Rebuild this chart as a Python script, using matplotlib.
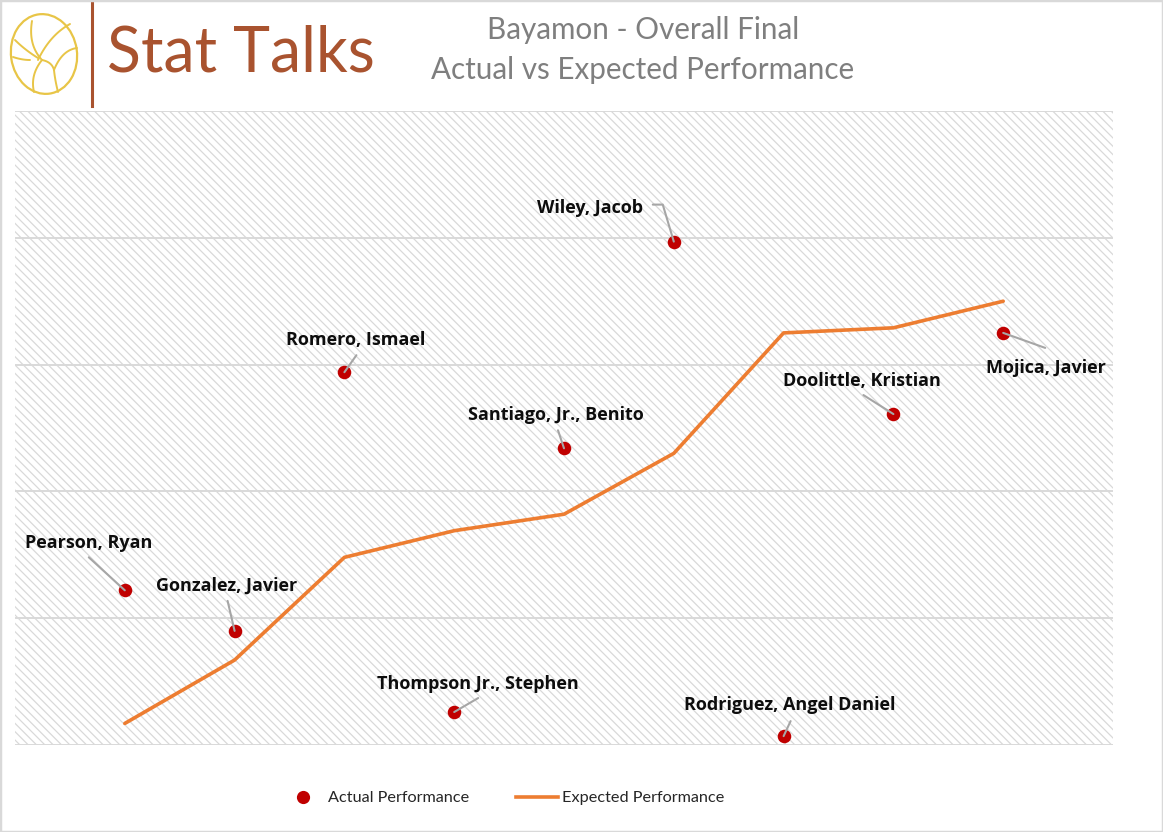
import matplotlib
matplotlib.use("Agg")
import matplotlib.pyplot as plt
from matplotlib.patches import Rectangle, Ellipse
from matplotlib.lines import Line2D
import numpy as np

plt.rcParams['font.family'] = ['Lato', 'DejaVu Sans']
plt.rcParams['hatch.linewidth'] = 0.9

# ---------------- data ----------------
players = ["Pearson, Ryan", "Gonzalez, Javier", "Romero, Ismael",
           "Thompson Jr., Stephen", "Santiago, Jr., Benito", "Wiley, Jacob",
           "Rodriguez, Angel Daniel", "Doolittle, Kristian", "Mojica, Javier"]
actual = [1.22, 0.90, 2.94, 0.26, 2.34, 3.97, 0.07, 2.61, 3.25]
expected = [0.17, 0.67, 1.48, 1.69, 1.82, 2.30, 3.25, 3.29, 3.50]

title_lines = ["Bayamon - Overall Final", "Actual vs Expected Performance"]

# label placement (pixel offsets from point): label centre, leader start
label_off = [(-36, 47), (-8, 45), (11, 32), (24, 28), (-8, 33),
             (-84, 34), (6, 31), (-31, 33), (43, -35)]
leader_off = [(-36, 33), (-7, 30), (12, 17), (24, 14), (-6, 18),
              (-21, 37), (7, 15), (-30, 19), (42, -15)]

W, H = 1163, 832
fig = plt.figure(figsize=(W / 100, H / 100), dpi=100)
fig.patch.set_facecolor('white')

# plot area
L, R, T, B = 15, 1113, 111, 745
ax = fig.add_axes([L / W, 1 - B / H, (R - L) / W, (B - T) / H])
ax.set_xlim(0, 10)
ax.set_ylim(0, 5)
ax.set_facecolor('white')
ax.add_patch(Rectangle((0, 0), 1, 1, transform=ax.transAxes, facecolor='white',
                       edgecolor='#D9D9D9', hatch='\\\\\\\\', linewidth=0, zorder=0))
for s in ax.spines.values():
    s.set_visible(False)
ax.set_xticks([])
ax.set_yticks(np.arange(0, 5.01, 1))
ax.tick_params(left=False, labelleft=False)
ax.grid(axis='y', color='#D9D9D9', linewidth=1.4)
ax.set_axisbelow(True)

x = np.arange(1, len(players) + 1)
ax.plot(x, expected, color='#ED7D31', linewidth=2.6, solid_capstyle='round', zorder=3)
ax.scatter(x, actual, s=95, color='#C00000', zorder=4, linewidths=0)

for i, name in enumerate(players):
    xy = (x[i], actual[i])
    if i == 5:
        cs = "angle,angleA=0,angleB=106.6,rad=0"
    else:
        cs = "arc3,rad=0"
    ax.annotate('', xy=xy, xytext=leader_off[i], textcoords='offset pixels',
                arrowprops=dict(arrowstyle='-', color='#A6A6A6', lw=1.5,
                                shrinkA=0, shrinkB=0, connectionstyle=cs),
                zorder=5)
    ax.annotate(name, xy=xy, xytext=label_off[i], textcoords='offset pixels',
                ha='center', va='center', fontsize=13, fontweight='bold',
                family=['Open Sans', 'DejaVu Sans'],
                color='#0D0D0D', zorder=6)

# title
fig.text(643 / W, 1 - 30 / H, title_lines[0], ha='center', va='center',
         fontsize=21.3, color='#7F7F7F')
fig.text(643 / W, 1 - 70 / H, title_lines[1], ha='center', va='center',
         fontsize=21.3, color='#7F7F7F')

# logo
lax = fig.add_axes([0, 1 - 110 / H, 110 / W, 110 / H])
lax.set_xlim(0, 110)
lax.set_ylim(110, 0)
lax.axis('off')
ball = '#E8C547'
lax.add_patch(Ellipse((44, 54), 66, 80, angle=-8, fill=False, edgecolor=ball, lw=1.6))
def seam(pts):
    p = np.array(pts, dtype=float)
    t = np.linspace(0, 1, 40)
    # quadratic bezier
    c = ((1 - t) ** 2)[:, None] * p[0] + (2 * (1 - t) * t)[:, None] * p[1] + (t ** 2)[:, None] * p[2]
    lax.plot(c[:, 0], c[:, 1], color=ball, lw=1.4, solid_capstyle='round')
seam([(32, 21), (28, 45), (42, 60)])
seam([(38, 60), (50, 35), (70, 24)])
seam([(15, 40), (25, 50), (38, 58)])
seam([(42, 60), (30, 75), (34, 92)])
seam([(42, 60), (52, 62), (54, 70)])
seam([(54, 70), (62, 50), (77, 48)])
seam([(54, 70), (55, 80), (58, 92)])
seam([(13, 57), (22, 60), (30, 60)])
lax.plot([92, 92], [2, 106], color='#A9532F', lw=2.2)
fig.text(107 / W, 1 - 54 / H, "Stat Talks", ha='left', va='center',
         fontsize=45, color='#A9532F')

# legend
handles = [Line2D([], [], linestyle='none', marker='o', markersize=9.5,
                  markerfacecolor='#C00000', markeredgewidth=0),
           Line2D([], [], color='#ED7D31', linewidth=2.6)]
leg = fig.legend(handles, ["Actual Performance", "Expected Performance"],
                 loc='center', bbox_to_anchor=(503 / W, 1 - 798 / H), ncol=2,
                 frameon=False, fontsize=11.7, handlelength=2.6, handletextpad=0.2,
                 columnspacing=2.9)
for t in leg.get_texts():
    t.set_color('#262626')

# figure border
fig.add_artist(Rectangle((0, 0), 1, 1, transform=fig.transFigure, fill=False,
                         edgecolor='#D9D9D9', linewidth=2.5))

fig.savefig('out.png', dpi=100, facecolor='white')
